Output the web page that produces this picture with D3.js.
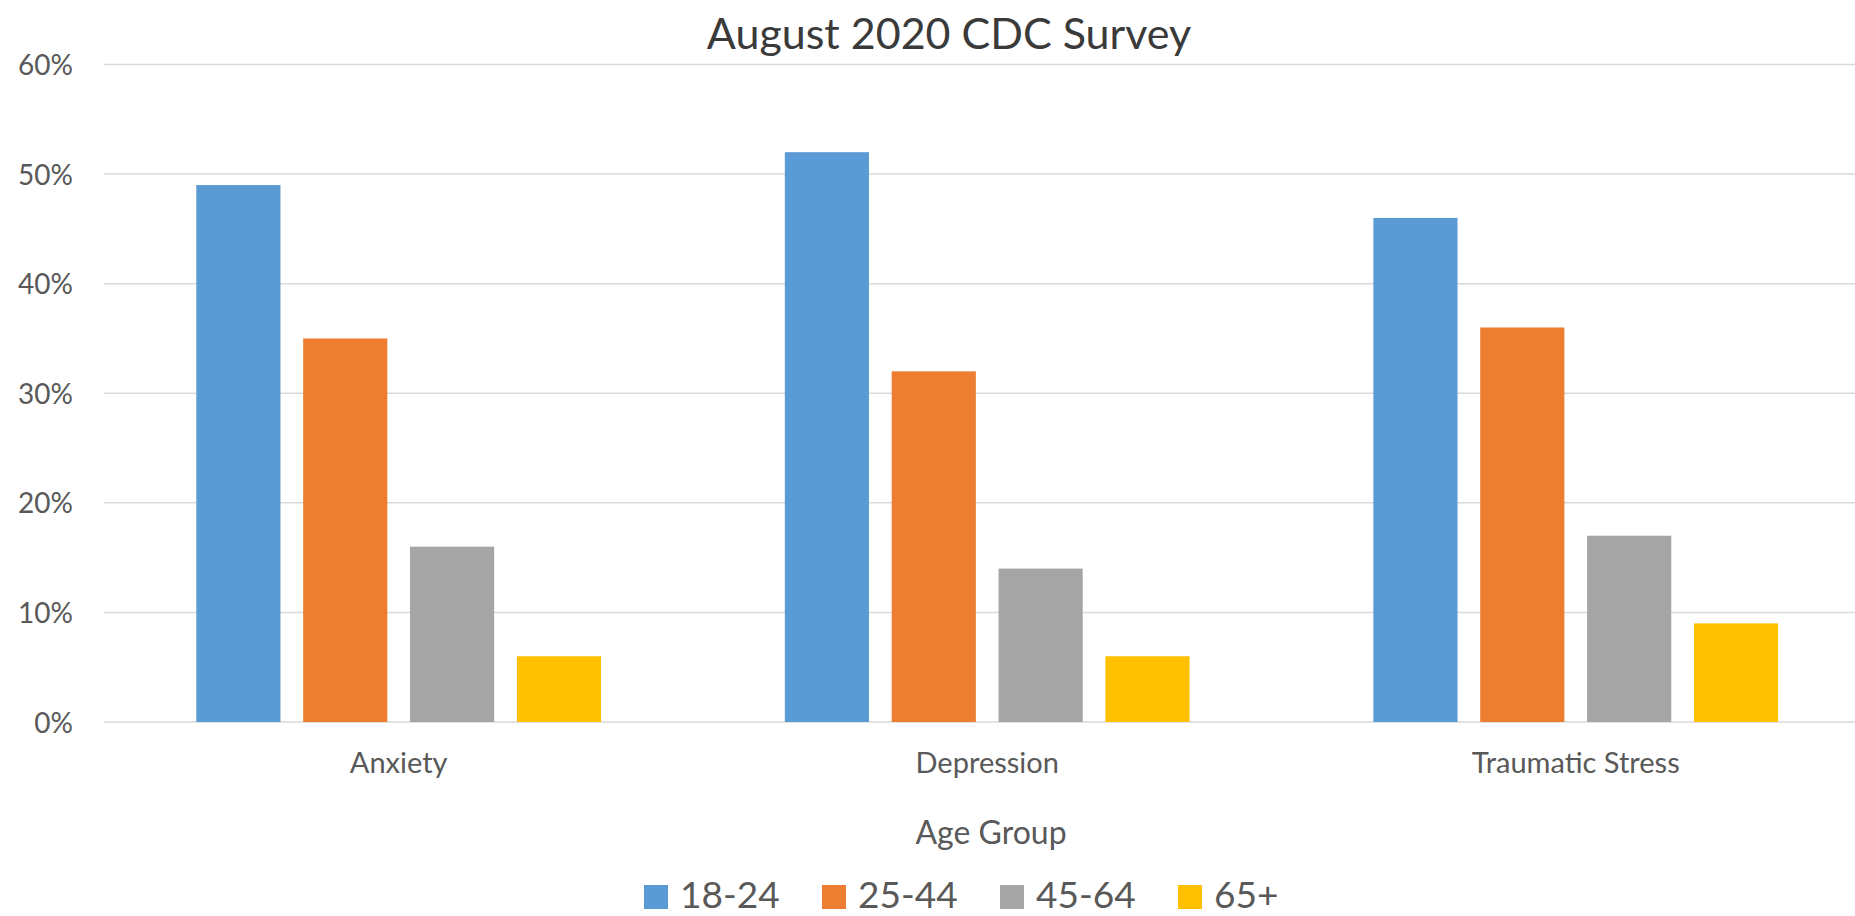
<!DOCTYPE html>
<html>
<head>
<meta charset="utf-8">
<script src="https://cdn.jsdelivr.net/npm/d3@7"></script>
<style>
  html, body { margin: 0; padding: 0; background: #ffffff; }
  svg { display: block; }
  text { font-family: Lato, "Noto Sans", sans-serif; }
</style>
</head>
<body>
<svg id="chart" width="1855" height="916"></svg>
<script>
// ---- data ----
const chartTitle = "August 2020 CDC Survey";
const xAxisTitle = "Age Group";
const categories = ["Anxiety", "Depression", "Traumatic Stress"];
const seriesNames = ["18-24", "25-44", "45-64", "65+"];
const values1824 = [0.49, 0.52, 0.46];
const values2544 = [0.35, 0.32, 0.36];
const values4564 = [0.16, 0.14, 0.17];
const values65 = [0.06, 0.06, 0.09];
const yTicks = [0, 0.1, 0.2, 0.3, 0.4, 0.5, 0.6];
const seriesColors = ["#5B9BD5", "#ED7D31", "#A5A5A5", "#FFC000"];

const seriesValues = [values1824, values2544, values4564, values65];

// ---- layout ----
const W = 1855, H = 916;
const svg = d3.select("#chart");

const x0 = d3.scaleBand()
  .domain(categories)
  .range([104.4, 1870])
  .paddingInner(0.3123)
  .paddingOuter(0.15615);

const x1 = d3.scaleBand()
  .domain(seriesNames)
  .range([0, x0.bandwidth()])
  .paddingInner(0.2125)
  .paddingOuter(0);

const y = d3.scaleLinear().domain([0, 0.6]).range([722, 64.5]);

const color = d3.scaleOrdinal().domain(seriesNames).range(seriesColors);

// gridlines
svg.append("g")
  .selectAll("line")
  .data(yTicks)
  .join("line")
  .attr("x1", 104)
  .attr("x2", 1870)
  .attr("y1", d => y(d))
  .attr("y2", d => y(d))
  .attr("stroke", "#d9d9d9")
  .attr("stroke-width", 1.5);

// y axis labels
const yAxis = d3.axisLeft(y).tickValues(yTicks).tickFormat(d3.format(".0%")).tickSize(0).tickPadding(0);
const yg = svg.append("g").attr("transform", "translate(73,0)").call(yAxis);
yg.select(".domain").remove();
yg.selectAll("text")
  .attr("font-family", "Lato, 'Noto Sans', sans-serif")
  .attr("font-size", 28)
  .attr("fill", "#595959")
  .attr("dy", "0.36em");

// bars
const groups = svg.append("g")
  .selectAll("g")
  .data(categories)
  .join("g")
  .attr("transform", d => `translate(${x0(d)},0)`);

groups.selectAll("rect")
  .data((c, ci) => seriesNames.map((s, si) => ({ s, v: seriesValues[si][ci] })))
  .join("rect")
  .attr("x", d => x1(d.s))
  .attr("width", x1.bandwidth())
  .attr("y", d => y(d.v))
  .attr("height", d => y(0) - y(d.v))
  .attr("fill", d => color(d.s));

// category labels
const xAxis = d3.axisBottom(x0).tickSize(0).tickPadding(0);
const xg = svg.append("g").attr("transform", "translate(0,722)").call(xAxis);
xg.select(".domain").remove();
xg.selectAll("text")
  .attr("font-family", "Lato, 'Noto Sans', sans-serif")
  .attr("font-size", 29)
  .attr("fill", "#595959")
  .attr("dy", null)
  .attr("y", 50.5);

// axis title
svg.append("text")
  .attr("x", 991)
  .attr("y", 843.5)
  .attr("text-anchor", "middle")
  .attr("font-size", 32)
  .attr("fill", "#595959")
  .text(xAxisTitle);

// chart title
svg.append("text")
  .attr("x", 949)
  .attr("y", 48.5)
  .attr("text-anchor", "middle")
  .attr("font-size", 43)
  .attr("fill", "#3a3a3a")
  .text(chartTitle);

// legend
const legend = svg.append("g")
  .selectAll("g")
  .data(seriesNames)
  .join("g")
  .attr("transform", (d, i) => `translate(${644 + i * 178},885)`);
legend.append("rect")
  .attr("width", 24)
  .attr("height", 24)
  .attr("fill", d => color(d));
legend.append("text")
  .attr("x", 36)
  .attr("y", 23)
  .attr("font-size", 37)
  .attr("fill", "#595959")
  .text(d => d);
</script>
</body>
</html>
